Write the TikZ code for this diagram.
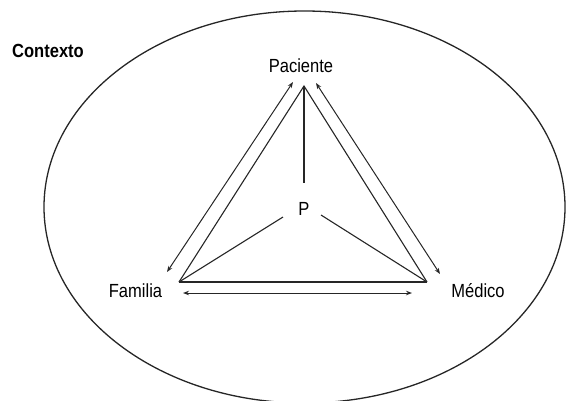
\documentclass[tikz,border=0pt]{standalone}
\usepackage{fontspec}
\setmainfont{Liberation Sans}[FakeStretch=0.87]
\usetikzlibrary{arrows.meta}

\begin{document}
\begin{tikzpicture}[
  x=1pt, y=-1pt,
  lbl/.style={inner sep=0pt, anchor=base, font=\fontsize{19}{22}\selectfont},
  ctxlbl/.style={inner sep=0pt, anchor=base west, font=\fontsize{19}{22}\selectfont\bfseries},
  edge/.style={line width=1.1pt, black!85, line join=miter},
  rel/.style={{Stealth[length=6pt,width=4.5pt]}-{Stealth[length=6pt,width=4.5pt]}, line width=1pt, black!85}
]
\useasboundingbox (0,0) rectangle (567,400);
\clip (0,0) rectangle (567,400);

% context
\draw[line width=1.3pt, black!85] (304.5,207) ellipse [x radius=260.5, y radius=196];
\node[ctxlbl] (ctx) at (12,57) {Contexto};

% labels
\node[lbl] (pac) at (301,72) {Paciente};
\node[lbl] (fam) at (135.5,297) {Familia};
\node[lbl] (med) at (478,297) {Médico};
\node[lbl] (p) at (304,215) {P};

% triangle corners and ends
\coordinate (a) at (304,86);
\coordinate (l) at (179,282);
\coordinate (r) at (427,282);
\coordinate (pt) at (304,183);
\coordinate (pl) at (283,217);
\coordinate (pr) at (321,215);
\coordinate (fa) at (167,272);
\coordinate (pa) at (293,82);
\coordinate (pb) at (316,83);
\coordinate (ma) at (440,274);
\coordinate (fb) at (183,293);
\coordinate (mb) at (412,293);

\draw[edge] (l) -- (a) -- (r);
\draw[edge, line width=1.4pt] (l) -- (r);
\draw[edge] (a) -- (pt);
\draw[edge] (pl) -- (l);
\draw[edge] (pr) -- (r);

\draw[rel] (fa) -- (pa);
\draw[rel] (pb) -- (ma);
\draw[rel] (fb) -- (mb);
\end{tikzpicture}
\end{document}
